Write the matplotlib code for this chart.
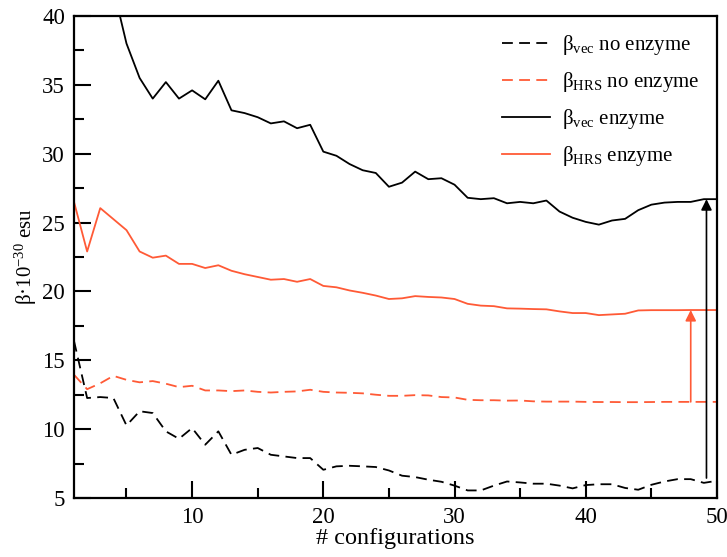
import matplotlib.pyplot as plt
import matplotlib.ticker as mticker
import numpy as np

plt.rcParams['font.family'] = ['Liberation Serif', 'DejaVu Serif']
plt.rcParams['mathtext.fontset'] = 'custom'
plt.rcParams['mathtext.rm'] = 'Liberation Serif'
plt.rcParams['mathtext.it'] = 'Liberation Serif:italic'

n_conf = np.arange(1, 51)

vec_enzyme = [52.0, 47.0, 44.5, 42.0, 38.0, 35.5, 34.0, 35.2, 34.0, 34.6,
              33.95, 35.3, 33.15, 32.95, 32.65, 32.2, 32.35, 31.85, 32.1, 30.15,
              29.85, 29.25, 28.8, 28.6, 27.6, 27.9, 28.7, 28.15, 28.22, 27.75,
              26.8, 26.7, 26.77, 26.4, 26.5, 26.4, 26.6, 25.8, 25.35, 25.05,
              24.85, 25.15, 25.27, 25.9, 26.3, 26.45, 26.5, 26.5, 26.7, 26.7]

hrs_enzyme = [26.5, 22.9, 26.05, 25.25, 24.45, 22.9, 22.45, 22.6, 22.0, 22.0,
              21.7, 21.9, 21.5, 21.25, 21.05, 20.85, 20.9, 20.7, 20.9, 20.4,
              20.3, 20.07, 19.9, 19.7, 19.45, 19.5, 19.66, 19.6, 19.56, 19.45,
              19.1, 18.97, 18.93, 18.77, 18.75, 18.72, 18.7, 18.55, 18.43, 18.43,
              18.28, 18.33, 18.38, 18.62, 18.64, 18.64, 18.64, 18.65, 18.65, 18.65]

vec_no_enzyme = [16.4, 12.26, 12.33, 12.26, 10.27, 11.3, 11.17, 9.84, 9.3, 10.08,
                 8.87, 9.84, 8.14, 8.5, 8.63, 8.14, 8.02, 7.9, 7.9, 7.05,
                 7.3, 7.34, 7.3, 7.25, 7.0, 6.62, 6.52, 6.33, 6.18, 5.9,
                 5.55, 5.55, 5.9, 6.2, 6.13, 6.04, 6.04, 5.9, 5.7, 5.94,
                 6.0, 6.0, 5.73, 5.6, 5.96, 6.2, 6.37, 6.37, 6.1, 6.25]

hrs_no_enzyme = [13.95, 12.9, 13.33, 13.87, 13.58, 13.4, 13.49, 13.3, 13.05, 13.15,
                 12.81, 12.81, 12.76, 12.81, 12.71, 12.66, 12.71, 12.74, 12.86, 12.71,
                 12.66, 12.64, 12.6, 12.5, 12.42, 12.42, 12.47, 12.45, 12.33, 12.3,
                 12.13, 12.1, 12.1, 12.07, 12.08, 12.02, 12.0, 12.0, 12.0, 11.98,
                 11.97, 11.97, 11.96, 11.96, 11.97, 11.98, 11.98, 11.98, 11.98, 11.98]

orange = '#ff5a36'
dash = (0, (6, 3.5))

fig = plt.figure(figsize=(7.27, 5.57), dpi=100)
ax = fig.add_axes([0.1018, 0.1059, 0.8844, 0.8654])

ax.plot(n_conf, vec_no_enzyme, color='black', ls=dash, lw=1.3,
        label=r'β$_\mathrm{vec}$ no enzyme')
ax.plot(n_conf, hrs_no_enzyme, color=orange, ls=dash, lw=1.3,
        label=r'β$_\mathrm{HRS}$ no enzyme')
ax.plot(n_conf, vec_enzyme, color='black', lw=1.3,
        label=r'β$_\mathrm{vec}$ enzyme')
ax.plot(n_conf, hrs_enzyme, color=orange, lw=1.3,
        label=r'β$_\mathrm{HRS}$ enzyme')

# arrows showing the enzyme effect
ax.annotate('', xy=(49.2, vec_enzyme[-1]), xytext=(49.2, 6.45),
            arrowprops=dict(arrowstyle='-|>', color='black', lw=1.2, mutation_scale=16,
                            shrinkA=0, shrinkB=0))
ax.annotate('', xy=(48, hrs_enzyme[47]), xytext=(48, hrs_no_enzyme[47]),
            arrowprops=dict(arrowstyle='-|>', color=orange, lw=1.2, mutation_scale=16,
                            shrinkA=0, shrinkB=0))

ax.set_xlim(1, 50)
ax.set_ylim(5, 40)
ax.xaxis.set_major_locator(mticker.MultipleLocator(10))
ax.xaxis.set_minor_locator(mticker.MultipleLocator(5))
ax.yaxis.set_major_locator(mticker.MultipleLocator(5))
ax.yaxis.set_minor_locator(mticker.MultipleLocator(2.5))
ax.tick_params(which='both', direction='in', width=1.5, labelsize=16.5, pad=6.5)
ax.tick_params(which='major', length=12)
ax.tick_params(which='minor', length=7)
for s in ax.spines.values():
    s.set_linewidth(1.6)

ax.set_xlabel('# configurations', fontsize=17.5, labelpad=0)
ax.set_ylabel(r'β·10$^{-30}$ esu', fontsize=15, labelpad=2)

ax.legend(loc='upper right', frameon=False, fontsize=15, handlelength=2.3,
          handletextpad=0.6, borderaxespad=0.2, labelspacing=0.62,
          bbox_to_anchor=(0.992, 0.99))

fig.savefig('out.png', dpi=100)
